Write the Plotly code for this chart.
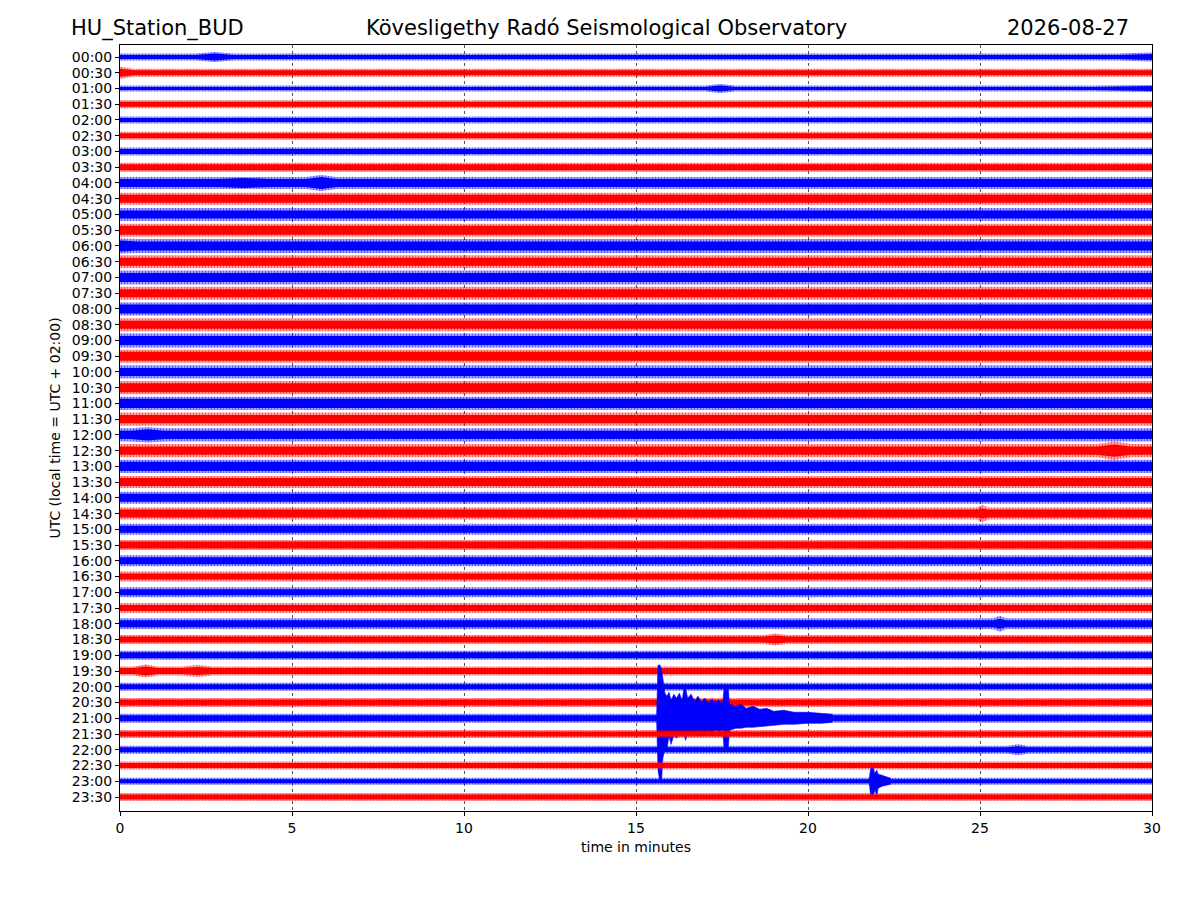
import plotly.graph_objects as go

# ---------------- data ----------------
ROW_LABELS = ["00:00", "00:30", "01:00", "01:30", "02:00", "02:30", "03:00", "03:30",
              "04:00", "04:30", "05:00", "05:30", "06:00", "06:30", "07:00", "07:30",
              "08:00", "08:30", "09:00", "09:30", "10:00", "10:30", "11:00", "11:30",
              "12:00", "12:30", "13:00", "13:30", "14:00", "14:30", "15:00", "15:30",
              "16:00", "16:30", "17:00", "17:30", "18:00", "18:30", "19:00", "19:30",
              "20:00", "20:30", "21:00", "21:30", "22:00", "22:30", "23:00", "23:30"]

# typical noise amplitude per half-hour line (dense core and occasional peaks), in counts
ROW_CORE = [2, 2.5, 1.5, 2.5, 2, 2.5, 2.5, 3,
            4, 4, 4, 4.5, 4.5, 4, 4.5, 4,
            4.5, 4, 4.5, 4.5, 4, 4.5, 4.5, 4,
            4, 4, 4.5, 4, 4, 4, 3.5, 3.5,
            3.5, 3, 3, 3, 3.5, 3, 3, 3,
            2.5, 3, 3, 2.5, 2.5, 2.5, 2, 2.5]
ROW_PEAK = [3.5, 4, 3, 4, 3.5, 4, 4, 4.5,
            6, 6, 6.5, 6.5, 7, 6.5, 7, 6.5,
            6.5, 6.5, 7, 6.5, 6.5, 6.5, 6.5, 6.5,
            6.5, 6.5, 6.5, 6, 6, 6, 5.5, 5,
            5.5, 5, 5, 5, 5.5, 4.5, 4.5, 4.5,
            4, 4.5, 4.5, 4, 4, 4, 3.5, 4]

# local bursts of noise: (row, start min, end min, core, peak)
BURSTS = [(0, 2.2, 3.3, 3.5, 5), (0, 29.0, 30.0, 3, 4.5),
          (1, 0.0, 0.4, 4, 6),
          (2, 17.0, 17.9, 3, 4.5), (2, 28.3, 30.0, 2.5, 3.5),
          (8, 2.9, 4.3, 5, 6.5), (8, 5.4, 6.3, 6, 8),
          (12, 0.0, 0.5, 5.5, 7.5),
          (24, 0.3, 1.3, 5.5, 7.5),
          (25, 28.4, 29.4, 6, 9),
          (29, 24.9, 25.25, 5, 8.5),
          (36, 25.4, 25.75, 5, 8),
          (37, 18.7, 19.4, 4, 6),
          (39, 0.4, 1.1, 4.5, 6.5), (39, 1.8, 2.7, 4, 6),
          (44, 25.8, 26.4, 3.5, 5.5)]

# earthquake on the 21:00 line (time in minutes, upward and downward excursion in counts)
EQ1_ROW = 42
EQ1_T = [15.60, 15.64, 15.70, 15.74, 15.78, 15.84, 15.90, 15.96, 16.02, 16.10,
         16.18, 16.26, 16.34, 16.40, 16.44, 16.50, 16.60, 16.70, 16.80, 16.90,
         17.00, 17.10, 17.20, 17.30, 17.40, 17.52, 17.56, 17.68, 17.72, 17.90,
         18.05, 18.20, 18.40, 18.60, 18.80, 19.00, 19.30, 19.60, 20.00, 20.40, 20.70]
EQ1_UP = [3, 53, 53, 48, 40, 25, 22, 26, 18, 24,
          20, 25, 18, 31, 31, 20, 24, 17, 22, 16,
          20, 15, 19, 16, 18, 15, 30, 30, 14, 12,
          14, 10, 12, 9, 10, 7, 8, 6, 6, 5, 4]
EQ1_DOWN = [3, 52, 64, 64, 40, 30, 30, 18, 26, 17,
            20, 15, 18, 16, 22, 15, 16, 14, 17, 13,
            15, 13, 16, 12, 14, 12, 30, 30, 12, 10,
            10, 9, 9, 8, 8, 7, 6, 6, 5, 5, 4]

# small local event on the 23:00 line
EQ2_ROW = 46
EQ2_T = [21.78, 21.82, 21.90, 21.94, 22.00, 22.04, 22.15, 22.40]
EQ2_UP = [2, 13, 13, 8, 11, 7, 6, 3]
EQ2_DOWN = [2, 14, 14, 9, 14, 7, 5, 3]

COUNTS_PER_LINE = 15.7   # helicorder vertical scaling (counts per line spacing)
COLORS = ["#0000ff", "#ff0000"]
COLORS_SOFT = ["rgba(0,0,255,0.30)", "rgba(255,0,0,0.30)"]


def band(row, base, which):
    verts = [(0.0, base)]
    for (r, t0, t1, c, p) in sorted(b for b in BURSTS if b[0] == row):
        amp = c if which == "core" else p
        if t0 <= 0.0:
            verts = [(0.0, amp), (t1, base)]
        elif t1 >= 30.0:
            verts += [(t0, base), (30.0, amp)]
        else:
            verts += [(t0, base), ((t0 + t1) / 2, amp), (t1, base)]
    if verts[-1][0] < 30.0:
        verts.append((30.0, base))
    y0 = -row
    xs = [v[0] for v in verts] + [v[0] for v in reversed(verts)]
    ys = [y0 + v[1] / COUNTS_PER_LINE for v in verts] + \
         [y0 - v[1] / COUNTS_PER_LINE for v in reversed(verts)]
    return xs, ys


def event_poly(row, ts, up, down):
    y0 = -row
    xs = list(ts) + list(reversed(ts))
    ys = [y0 + u / COUNTS_PER_LINE for u in up] + \
         [y0 - d / COUNTS_PER_LINE for d in reversed(down)]
    return xs, ys


fig = go.Figure()
for i in range(len(ROW_LABELS)):
    c = i % 2
    xs, ys = band(i, ROW_PEAK[i], "peak")
    fig.add_trace(go.Scatter(x=xs, y=ys, fill="toself", fillcolor=COLORS_SOFT[c],
                             fillpattern=dict(shape="|", size=3, solidity=0.45,
                                              fgcolor=COLORS[c], fillmode="overlay"),
                             mode="lines", line=dict(width=0), hoverinfo="skip",
                             showlegend=False))
    xs, ys = band(i, ROW_CORE[i], "core")
    fig.add_trace(go.Scatter(x=xs, y=ys, fill="toself", fillcolor=COLORS[c],
                             mode="lines", line=dict(width=0), hoverinfo="skip",
                             showlegend=False))
    if i == EQ1_ROW:
        xs, ys = event_poly(EQ1_ROW, EQ1_T, EQ1_UP, EQ1_DOWN)
        fig.add_trace(go.Scatter(x=xs, y=ys, fill="toself", fillcolor=COLORS[c],
                                 mode="lines", line=dict(width=0.6, color=COLORS[c]),
                                 hoverinfo="skip", showlegend=False))
    if i == EQ2_ROW:
        xs, ys = event_poly(EQ2_ROW, EQ2_T, EQ2_UP, EQ2_DOWN)
        fig.add_trace(go.Scatter(x=xs, y=ys, fill="toself", fillcolor=COLORS[c],
                                 mode="lines", line=dict(width=0.6, color=COLORS[c]),
                                 hoverinfo="skip", showlegend=False))

FONT = "DejaVu Sans"
fig.update_layout(
    width=1200, height=900,
    margin=dict(l=112, r=56, t=37, b=97),
    paper_bgcolor="white", plot_bgcolor="white",
    font=dict(family=FONT, size=14, color="black"),
    xaxis=dict(range=[0, 30], tickvals=[0, 5, 10, 15, 20, 25, 30],
               showgrid=True, griddash="dot", gridcolor="#555555", gridwidth=0.6,
               zeroline=False, showline=True, mirror=True, linecolor="black",
               linewidth=1, ticks="outside", ticklen=4, tickcolor="black",
               tickfont=dict(size=14),
               title=dict(text="time in minutes", font=dict(size=14), standoff=7)),
    yaxis=dict(range=[-47.889, 0.762], tickvals=[-i for i in range(len(ROW_LABELS))],
               ticktext=ROW_LABELS, showgrid=False, zeroline=False, showline=True,
               mirror=True, linecolor="black", linewidth=1, ticks="outside",
               ticklen=4, tickcolor="black", tickfont=dict(size=14),
               title=dict(text="UTC (local time = UTC + 02:00)", font=dict(size=14),
                          standoff=7)),
    annotations=[
        dict(text="HU_Station_BUD", xref="paper", yref="paper", x=-0.0494, y=1.022,
             xanchor="left", yanchor="middle", showarrow=False, font=dict(size=21)),
        dict(text="Köveslígethy Radó Seismological Observatory".replace("í", "i"),
             xref="paper", yref="paper", x=0.471, y=1.022,
             xanchor="center", yanchor="middle", showarrow=False, font=dict(size=21)),
        dict(text="2026-08-27", xref="paper", yref="paper", x=0.9797, y=1.022,
             xanchor="right", yanchor="middle", showarrow=False, font=dict(size=21)),
    ],
)

fig.write_html("out.html")
